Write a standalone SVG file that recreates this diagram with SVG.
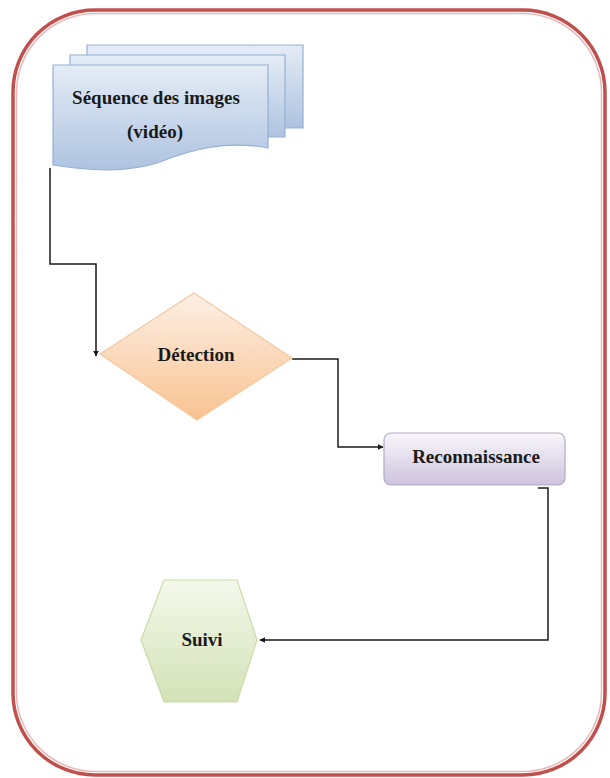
<svg xmlns="http://www.w3.org/2000/svg" width="610" height="778" viewBox="0 0 610 778">
  <style>
    .lbl { font-family: "Liberation Serif", "DejaVu Serif", serif; font-weight: bold; font-size: 19px; fill: #1a1a1a; text-anchor: middle; }
    .conn { fill: none; stroke: #1a1a1a; stroke-width: 1.5; }
  </style>
  <defs>
    <linearGradient id="gBlue" x1="0" y1="0" x2="0" y2="1">
      <stop offset="0" stop-color="#e4ecf6"/>
      <stop offset="1" stop-color="#aec3e0"/>
    </linearGradient>
    <linearGradient id="gPeach" x1="0" y1="0" x2="0" y2="1">
      <stop offset="0" stop-color="#fdf0e6"/>
      <stop offset="1" stop-color="#f9c290"/>
    </linearGradient>
    <linearGradient id="gLav" x1="0" y1="0" x2="0" y2="1">
      <stop offset="0" stop-color="#f9f7fb"/>
      <stop offset="1" stop-color="#cdc2de"/>
    </linearGradient>
    <linearGradient id="gGreen" x1="0" y1="0" x2="0" y2="1">
      <stop offset="0" stop-color="#f4f8ec"/>
      <stop offset="1" stop-color="#d3e2b6"/>
    </linearGradient>
    <marker id="arr" viewBox="0 0 10 10" refX="9" refY="5" markerWidth="6" markerHeight="6" orient="auto" markerUnits="userSpaceOnUse">
      <path d="M0,0 L10,5 L0,10 z" fill="#1a1a1a"/>
    </marker>
  </defs>

  <rect width="610" height="778" fill="#ffffff"/>

  <g id="frame">
    <rect x="13" y="10" width="592" height="765" rx="82" ry="82" fill="none" stroke="#c0504d" stroke-width="3.5"/>
    <rect x="16.5" y="13.5" width="585" height="758" rx="79" ry="79" fill="none" stroke="#ebb8b6" stroke-width="1.5"/>
  </g>

  <g id="connectors">
    <polyline class="conn" points="50,168 50,264 96,264 96,356" marker-end="url(#arr)"/>
    <polyline class="conn" points="292,359 338,359 338,447 383,447" marker-end="url(#arr)"/>
    <polyline class="conn" points="538,488 548,488 548,640 260,640" marker-end="url(#arr)"/>
  </g>

  <g id="sequence">
    <path d="M87,45 H303 V128 H87 Z" fill="url(#gBlue)" stroke="#95b0d4" stroke-width="1.2"/>
    <path d="M70,55 H285 V137 H70 Z" fill="url(#gBlue)" stroke="#95b0d4" stroke-width="1.2"/>
    <path d="M53,65 H268 V148 C225,140 190,150 160,162 C125,174 85,170 53,165 Z" fill="url(#gBlue)" stroke="#95b0d4" stroke-width="1.2"/>
    <text class="lbl" x="156" y="104">Séquence des images</text>
    <text class="lbl" x="155" y="138">(vidéo)</text>
  </g>

  <g id="detection">
    <polygon points="194,293 292,358 197,420 100,354" fill="url(#gPeach)" stroke="#f4c7a0" stroke-width="1.2"/>
    <text class="lbl" x="196" y="361">Détection</text>
  </g>

  <g id="reconnaissance">
    <rect x="384" y="433" width="181" height="52" rx="7" ry="7" fill="url(#gLav)" stroke="#b3a9c4" stroke-width="1.2"/>
    <text class="lbl" x="476" y="463">Reconnaissance</text>
  </g>

  <g id="suivi">
    <polygon points="164,580 237,580 257,640 237,702 164,702 141,640" fill="url(#gGreen)" stroke="#c9dba8" stroke-width="1.2"/>
    <text class="lbl" x="202" y="646">Suivi</text>
  </g>
</svg>
